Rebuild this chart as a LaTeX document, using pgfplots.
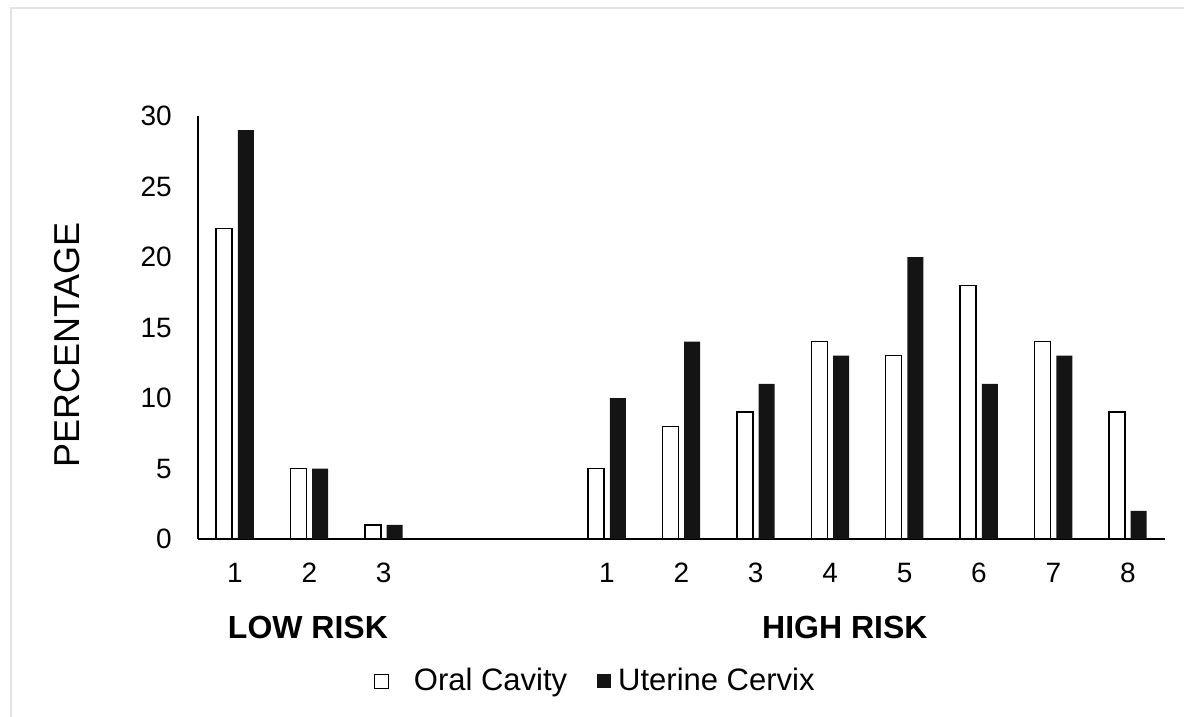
\documentclass[border=0pt]{standalone}
\usepackage{fontspec}
\setmainfont{Liberation Sans}
\usepackage{pgfplots}
\pgfplotsset{compat=1.18}
\definecolor{barblack}{HTML}{141414}
\definecolor{frame}{HTML}{E4E4E4}
\begin{document}
\begin{tikzpicture}
% page = 1184 x 717 px, 1 px = 0.5pt
\path[use as bounding box] (0,0) rectangle (592pt,-358.5pt);
\draw[frame, line width=1pt] (5.5pt,-358.5pt) -- (5.5pt,-4pt) -- (592pt,-4pt);
\begin{axis}[
    at={(98.85pt,-269.5pt)}, anchor=south west,
    scale only axis,
    width=483.65pt, height=211.5pt,
    xmin=-0.5, xmax=12.5,
    ymin=0, ymax=30,
    axis lines=left,
    axis line style={-, line width=0.8pt, black},
    major tick length=0pt,
    xtick={0,1,2,5,6,7,8,9,10,11,12},
    xticklabels={1,2,3,1,2,3,4,5,6,7,8},
    ytick={0,5,...,30},
    tick label style={font=\fontsize{14}{17}\selectfont, inner sep=0pt},
    xticklabel style={yshift=-12pt},
    yticklabel style={xshift=-12.8pt},
    /pgf/number format/assume math mode=true,
    ylabel={PERCENTAGE},
    every axis y label/.style={at={(axis description cs:-0.1351,0.4586)},
        rotate=90, anchor=center, font=\fontsize{18}{22}\selectfont},
    ybar, bar width=0.215,
    legend columns=2,
    legend style={draw=none, fill=none, inner sep=0pt,
        at={(axis description cs:0.1823,-0.3357)}, anchor=west,
        font=\fontsize{15.5}{18}\selectfont,
        nodes={inner sep=0pt},
        /tikz/every even column/.append style={column sep=15pt}},
    clip=false,
]
\addplot[draw=black, line width=0.65pt, fill=white, bar shift=-0.146,
    legend image code/.code={
        \draw[black, line width=0.5pt, fill=white] (0pt,-3.5pt) rectangle (7pt,3.5pt);
        \path[draw=none, fill=none] (0pt,0pt) -- (19.5pt,0pt);}]
coordinates {
(0,22) (1,5) (2,1)
(5,5) (6,8) (7,9) (8,14) (9,13) (10,18) (11,14) (12,9)
};
\addlegendentry{Oral Cavity}
\addplot[draw=none, fill=barblack, bar shift=0.146,
    legend image code/.code={
        \fill[barblack] (0pt,-3.5pt) rectangle (7pt,3.5pt);
        \path[draw=none, fill=none] (0pt,0pt) -- (10.5pt,0pt);}]
coordinates {
(0,29) (1,5) (2,1)
(5,10) (6,14) (7,11) (8,13) (9,20) (10,11) (11,13) (12,2)
};
\addlegendentry{Uterine Cervix}
\node[font=\fontsize{16}{19}\selectfont\bfseries] at (axis description cs:0.114,-0.208) {LOW RISK};
\node[font=\fontsize{16}{19}\selectfont\bfseries] at (axis description cs:0.669,-0.208) {HIGH RISK};
\end{axis}
\end{tikzpicture}
\end{document}
